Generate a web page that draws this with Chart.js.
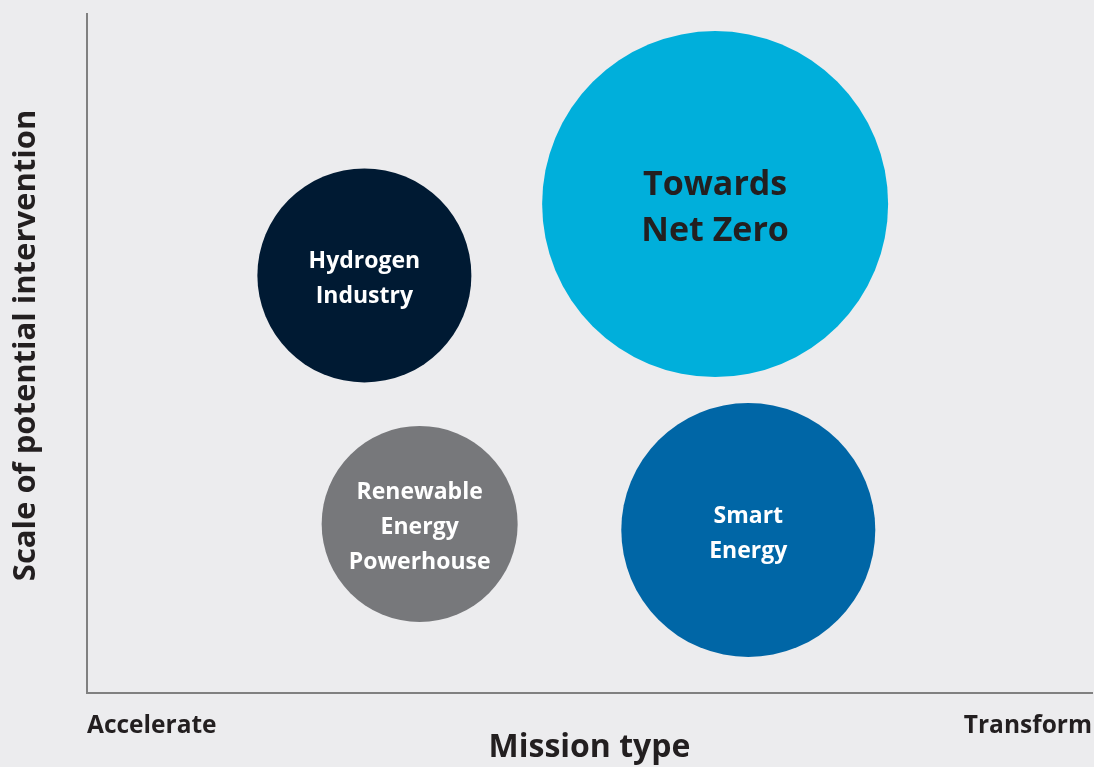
<!DOCTYPE html>
<html>
<head>
<meta charset="utf-8">
<script src="https://cdn.jsdelivr.net/npm/chart.js@4.4.1/dist/chart.umd.min.js"></script>
<style>
  html, body { margin: 0; padding: 0; background: #ECECEE; }
  #wrap { width: 1094px; height: 767px; }
</style>
</head>
<body>
<div id="wrap"><canvas id="c" width="1094" height="767"></canvas></div>
<script>
// ---- data ----
const missions = ["Hydrogen Industry", "Towards Net Zero", "Renewable Energy Powerhouse", "Smart Energy"];
const missionLines = [["Hydrogen", "Industry"], ["Towards", "Net Zero"], ["Renewable", "Energy", "Powerhouse"], ["Smart", "Energy"]];
const missionTypeX = [27.6, 62.5, 33.1, 65.8];       // Accelerate (0) -> Transform (100)
const interventionY = [61.5, 72.0, 24.9, 24.0];     // scale of potential intervention
const bubbleSize = [107, 173, 98, 127];
const xTickLabels = ["Accelerate", "Transform"];
const xTickValues = [0, 100];
const bubbleColors = ["#001A33", "#00AFDB", "#77787B", "#0066A6"];
const labelColors = ["#FFFFFF", "#231F20", "#FFFFFF", "#FFFFFF"];
const labelFontSizes = [23, 34, 23, 23];
const labelLineHeights = [35, 46, 35, 35];

const FONT = "'Open Sans', 'Noto Sans', sans-serif";

const bubbleLabels = {
  id: 'bubbleLabels',
  afterDatasetsDraw(chart) {
    const ctx = chart.ctx;
    chart.data.datasets.forEach((ds, di) => {
      const meta = chart.getDatasetMeta(di);
      meta.data.forEach((el) => {
        const i = di;
        const lines = missionLines[i];
        const lh = labelLineHeights[i];
        ctx.save();
        ctx.fillStyle = labelColors[i];
        ctx.font = "bold " + labelFontSizes[i] + "px " + FONT;
        ctx.textAlign = 'center';
        ctx.textBaseline = 'middle';
        const startY = el.y - (lines.length - 1) * lh / 2;
        lines.forEach((t, k) => ctx.fillText(t, el.x, startY + k * lh + 4));
        ctx.restore();
      });
    });
  }
};

const datasets = missions.map((m, i) => ({
  label: m,
  data: [{ x: missionTypeX[i], y: interventionY[i], r: bubbleSize[i] }],
  backgroundColor: bubbleColors[i],
  borderWidth: 0,
  hoverBorderWidth: 0,
  clip: false
}));

new Chart(document.getElementById('c'), {
  type: 'bubble',
  data: { datasets },
  plugins: [bubbleLabels],
  options: {
    responsive: false,
    animation: false,
    layout: { autoPadding: false, padding: { top: 14, right: 2, left: 0, bottom: 0 } },
    plugins: { legend: { display: false }, tooltip: { enabled: false } },
    scales: {
      x: {
        type: 'linear', min: 0, max: 100, offset: false,
        grid: { display: false, drawTicks: false },
        border: { display: true, color: '#808080', width: 2 },
        afterBuildTicks: (s) => { s.ticks = xTickValues.map(v => ({ value: v })); },
        afterFit: (s) => { s.height = 74; s.paddingLeft = 0; s.paddingRight = 0; },
        ticks: {
          align: 'inner', padding: 18, maxRotation: 0, autoSkip: false,
          color: '#231F20', font: { family: FONT, size: 24.5, weight: 'bold' },
          callback: (v) => xTickLabels[xTickValues.indexOf(v)]
        },
        title: {
          display: true, text: 'Mission type', color: '#231F20',
          font: { family: FONT, size: 32, weight: 'bold', lineHeight: 1 },
          padding: { top: 0, bottom: 3 }
        }
      },
      y: {
        type: 'linear', min: 0, max: 100, offset: false,
        grid: { display: false, drawTicks: false },
        border: { display: true, color: '#808080', width: 2 },
        ticks: { display: false },
        afterFit: (s) => { s.width = 87; },
        title: {
          display: true, text: '\u00A0\u00A0Scale of potential intervention', color: '#231F20',
          font: { family: FONT, size: 31, weight: 'bold', lineHeight: 1 },
          padding: { top: 11, bottom: 0 }
        }
      }
    }
  }
});
</script>
</body>
</html>
